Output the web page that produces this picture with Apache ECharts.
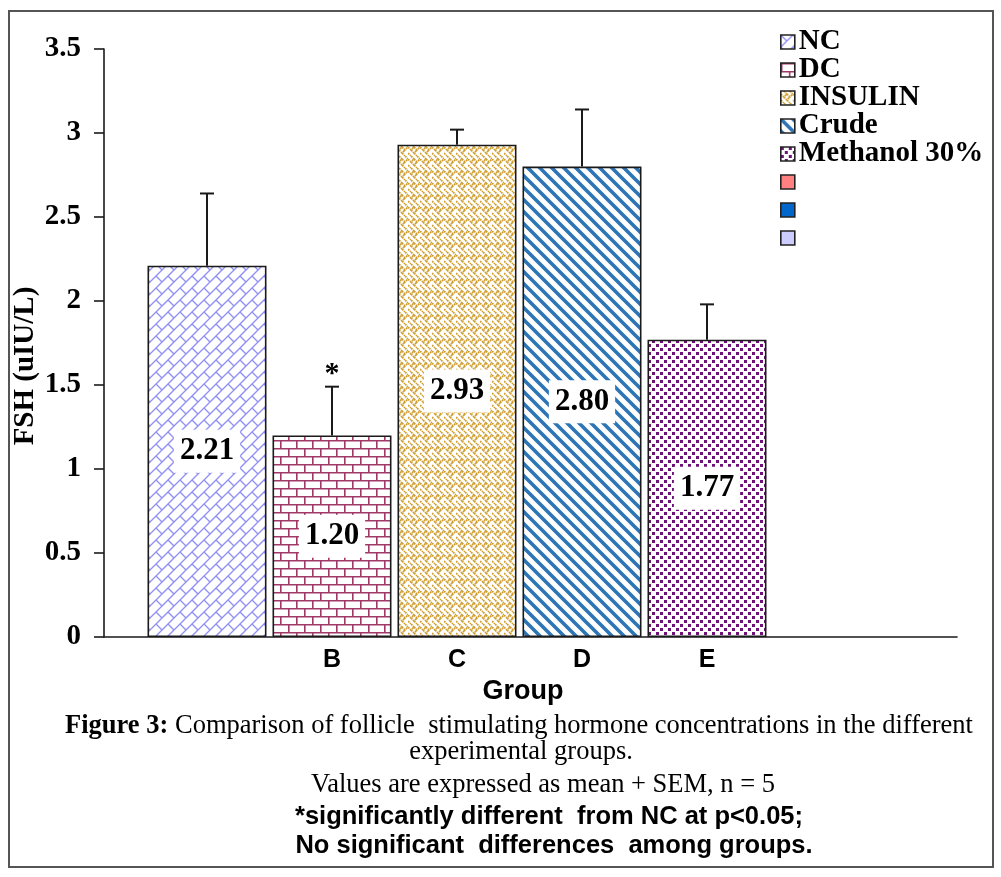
<!DOCTYPE html>
<html>
<head>
<meta charset="utf-8">
<script src="https://cdn.jsdelivr.net/npm/echarts@6/dist/echarts.min.js"></script>
<style>
  html, body { margin: 0; padding: 0; background: #fff; }
  #chart { width: 1001px; height: 877px; }
  #frame { position: absolute; left: 8px; top: 10px; width: 986px; height: 858px; box-sizing: border-box; border: 2px solid #555; pointer-events: none; }
</style>
</head>
<body>
<div id="chart"></div>
<div id="frame"></div>
<script>
// ---- data ----
const categories = ['', 'B', 'C', 'D', 'E'];
const groupNames = ['NC', 'DC', 'INSULIN', 'Crude', 'Methanol 30%'];
const meanValues = [2.21, 1.20, 2.93, 2.80, 1.77];
const semValues = [0.43, 0.29, 0.09, 0.34, 0.21];
const significance = ['', '*', '', '', ''];
const extraLegendNames = [' ', '  ', '   '];
const extraLegendColors = ['#FF8080', '#0066CC', '#CCCCFF'];
const yTicks = { min: 0, max: 3.5, interval: 0.5 };

const SERIF = "'Liberation Serif', 'Times New Roman', serif";
const NARROW = "'Liberation Sans Narrow', 'Liberation Sans', Arial, sans-serif";

function tile(w, h, draw) {
  const c = document.createElement('canvas');
  c.width = w; c.height = h;
  const ctx = c.getContext('2d');
  ctx.fillStyle = '#fff';
  ctx.fillRect(0, 0, w, h);
  draw(ctx, w, h);
  return { image: c, repeat: 'repeat' };
}

// diagonal brick (NC)
const patNC = tile(24, 24, (ctx, T) => {
  const h = T / 2;
  ctx.strokeStyle = '#8F8FF5';
  ctx.lineWidth = 1.3;
  for (let r = -4; r <= 6; r++) {
    const s = r * h;
    ctx.beginPath(); ctx.moveTo(-T, s + T); ctx.lineTo(s + T, -T); ctx.stroke();
    const par = ((r % 2) + 2) % 2;
    for (let k = -4; k <= 4; k++) {
      const t0 = par * h + k * 2 * h;
      const s1 = s, s2 = s + h;
      ctx.beginPath();
      ctx.moveTo((s1 + t0) / 2, (s1 - t0) / 2);
      ctx.lineTo((s2 + t0) / 2, (s2 - t0) / 2);
      ctx.stroke();
    }
  }
});
// horizontal brick (DC)
const patDC = tile(16, 16, (ctx) => {
  ctx.strokeStyle = '#A03868';
  ctx.lineWidth = 1.6;
  ctx.beginPath();
  ctx.moveTo(0, 0.8); ctx.lineTo(16, 0.8);
  ctx.moveTo(0, 8.8); ctx.lineTo(16, 8.8);
  ctx.moveTo(0.8, 0); ctx.lineTo(0.8, 8.8);
  ctx.moveTo(8.8, 8.8); ctx.lineTo(8.8, 16);
  ctx.stroke();
});
// weave (INSULIN)
const patINS = tile(12, 12, (ctx) => {
  ctx.strokeStyle = '#CF9E2E';
  ctx.lineWidth = 1.7;
  ctx.setLineDash([2, 0.8]);
  ctx.beginPath();
  ctx.moveTo(0, 3); ctx.lineTo(3, 6); ctx.lineTo(6, 3); ctx.lineTo(9, 6); ctx.lineTo(12, 3);
  ctx.moveTo(3, 0); ctx.lineTo(6, 3);
  ctx.moveTo(9, 0); ctx.lineTo(12, 3);
  ctx.moveTo(0, 9); ctx.lineTo(3, 12);
  ctx.moveTo(6, 9); ctx.lineTo(9, 12);
  ctx.moveTo(3, 6); ctx.lineTo(6, 9); ctx.lineTo(9, 6);
  ctx.stroke();
});
// wide downward diagonal (Crude)
const patCrude = tile(12, 12, (ctx) => {
  ctx.strokeStyle = '#2E75B6';
  ctx.lineWidth = 3.6;
  ctx.beginPath();
  for (let k = -12; k <= 12; k += 12) {
    ctx.moveTo(k - 2, -2); ctx.lineTo(k + 14, 14);
  }
  ctx.stroke();
});
// dotted (Methanol)
const patMeth = tile(8, 8, (ctx) => {
  ctx.fillStyle = '#70107A';
  ctx.fillRect(0, 0, 3, 3);
  ctx.fillRect(4, 4, 3, 3);
});
const patterns = [patNC, patDC, patINS, patCrude, patMeth];

const barSeries = groupNames.map((name, i) => ({
  name: name,
  type: 'bar',
  xAxisIndex: 1,
  yAxisIndex: 1,
  stack: 'groups',
  barWidth: 119,
  data: categories.map((c, j) => (j === i ? meanValues[i] : '-')),
  itemStyle: { color: patterns[i], borderColor: '#1a1a1a', borderWidth: 1.6 },
  label: {
    show: true,
    position: 'inside',
    formatter: (p) => Number(p.value).toFixed(2),
    color: '#000',
    fontFamily: SERIF,
    fontWeight: 'bold',
    fontSize: 31,
    backgroundColor: '#fff',
    padding: [6, 6]
  },
  z: 2
}));

const extraSeries = extraLegendNames.map((name, i) => ({
  name: name,
  type: 'bar',
  xAxisIndex: 0,
  yAxisIndex: 0,
  data: [],
  itemStyle: { color: extraLegendColors[i], borderColor: '#1a1a1a', borderWidth: 1.6 }
}));

const errorData = meanValues.map((v, i) => [i, v, semValues[i]]);
const errorSeries = {
  type: 'custom',
  name: 'err',
  xAxisIndex: 1,
  yAxisIndex: 1,
  data: errorData,
  encode: { x: 0, y: 1 },
  z: 5,
  silent: true,
  renderItem: (params, api) => {
    const idx = api.value(0);
    const m = api.value(1);
    const e = api.value(2);
    const base = api.coord([idx, m]);
    const top = api.coord([idx, m + e]);
    const style = { stroke: '#1a1a1a', lineWidth: 2 };
    const children = [
      { type: 'line', shape: { x1: base[0], y1: base[1], x2: top[0], y2: top[1] }, style: style },
      { type: 'line', shape: { x1: top[0] - 7, y1: top[1], x2: top[0] + 7, y2: top[1] }, style: style }
    ];
    const sig = significance[params.dataIndex];
    if (sig) {
      children.push({
        type: 'text',
        x: top[0], y: top[1] - 12,
        style: { text: sig, fill: '#000', font: 'bold 30px ' + SERIF, align: 'center', verticalAlign: 'middle' }
      });
    }
    return { type: 'group', children: children };
  }
};

const chart = echarts.init(document.getElementById('chart'), null, { renderer: 'canvas' });
chart.setOption({
  backgroundColor: '#fff',
  animation: false,
  grid: [
    { left: 104, right: 44, top: 49, height: 588 },
    { left: 144.5, width: 625, top: 49, height: 588 }
  ],
  xAxis: [
    { type: 'category', gridIndex: 0, data: [''],
      axisLine: { show: true, lineStyle: { color: '#1a1a1a', width: 1.6 } },
      axisTick: { show: false }, axisLabel: { show: false }, splitLine: { show: false } },
    { type: 'category', gridIndex: 1, data: categories,
      axisLine: { show: false }, axisTick: { show: false }, splitLine: { show: false },
      axisLabel: { color: '#000', fontFamily: NARROW, fontWeight: 'bold', fontSize: 25, margin: 11 } }
  ],
  yAxis: [
    { type: 'value', gridIndex: 0, min: yTicks.min, max: yTicks.max, interval: yTicks.interval,
      axisLine: { show: true, lineStyle: { color: '#1a1a1a', width: 1.6 } },
      axisTick: { show: true, inside: false, length: 10, lineStyle: { color: '#1a1a1a', width: 1.6 } },
      axisLabel: { color: '#000', fontFamily: SERIF, fontWeight: 'bold', fontSize: 29, margin: 23 },
      splitLine: { show: false } },
    { type: 'value', gridIndex: 1, min: yTicks.min, max: yTicks.max, interval: yTicks.interval, show: false }
  ],
  legend: {
    orient: 'vertical',
    left: 775,
    top: 22.5,
    icon: 'rect',
    itemWidth: 14,
    itemHeight: 14,
    itemGap: -1,
    selectedMode: false,
    data: groupNames.concat(extraLegendNames),
    itemStyle: { borderColor: '#222', borderWidth: 1.6 },
    textStyle: { color: '#000', fontFamily: SERIF, fontWeight: 'bold', fontSize: 29, padding: [0, 0, 0, -1] }
  },
  graphic: [
    { type: 'text', x: 26, y: 366, rotation: Math.PI / 2,
      style: { text: 'FSH (uIU/L)', align: 'center', verticalAlign: 'middle', fill: '#000', font: 'bold 29px ' + SERIF } },
    { type: 'text', x: 523, y: 692,
      style: { text: 'Group', align: 'center', verticalAlign: 'middle', fill: '#000', font: 'bold 27px ' + NARROW } },
    { type: 'text', x: 519, y: 726,
      style: { text: '{b|Figure 3:} Comparison of follicle  stimulating hormone concentrations in the different',
               align: 'center', verticalAlign: 'middle', fill: '#000', font: '26.5px ' + SERIF,
               rich: { b: { fontFamily: SERIF, fontWeight: 'bold', fontSize: 26.5 } } } },
    { type: 'text', x: 521, y: 752,
      style: { text: 'experimental groups.', align: 'center', verticalAlign: 'middle', fill: '#000', font: '26.5px ' + SERIF } },
    { type: 'text', x: 543, y: 785,
      style: { text: 'Values are expressed as mean + SEM, n = 5', align: 'center', verticalAlign: 'middle', fill: '#000', font: '26.5px ' + SERIF } },
    { type: 'text', x: 549, y: 817,
      style: { text: '*significantly different  from NC at p<0.05;', align: 'center', verticalAlign: 'middle', fill: '#000', font: 'bold 25.5px ' + NARROW } },
    { type: 'text', x: 554, y: 846,
      style: { text: 'No significant  differences  among groups.', align: 'center', verticalAlign: 'middle', fill: '#000', font: 'bold 25.5px ' + NARROW } }
  ],
  series: barSeries.concat(extraSeries, [errorSeries])
});
</script>
</body>
</html>
